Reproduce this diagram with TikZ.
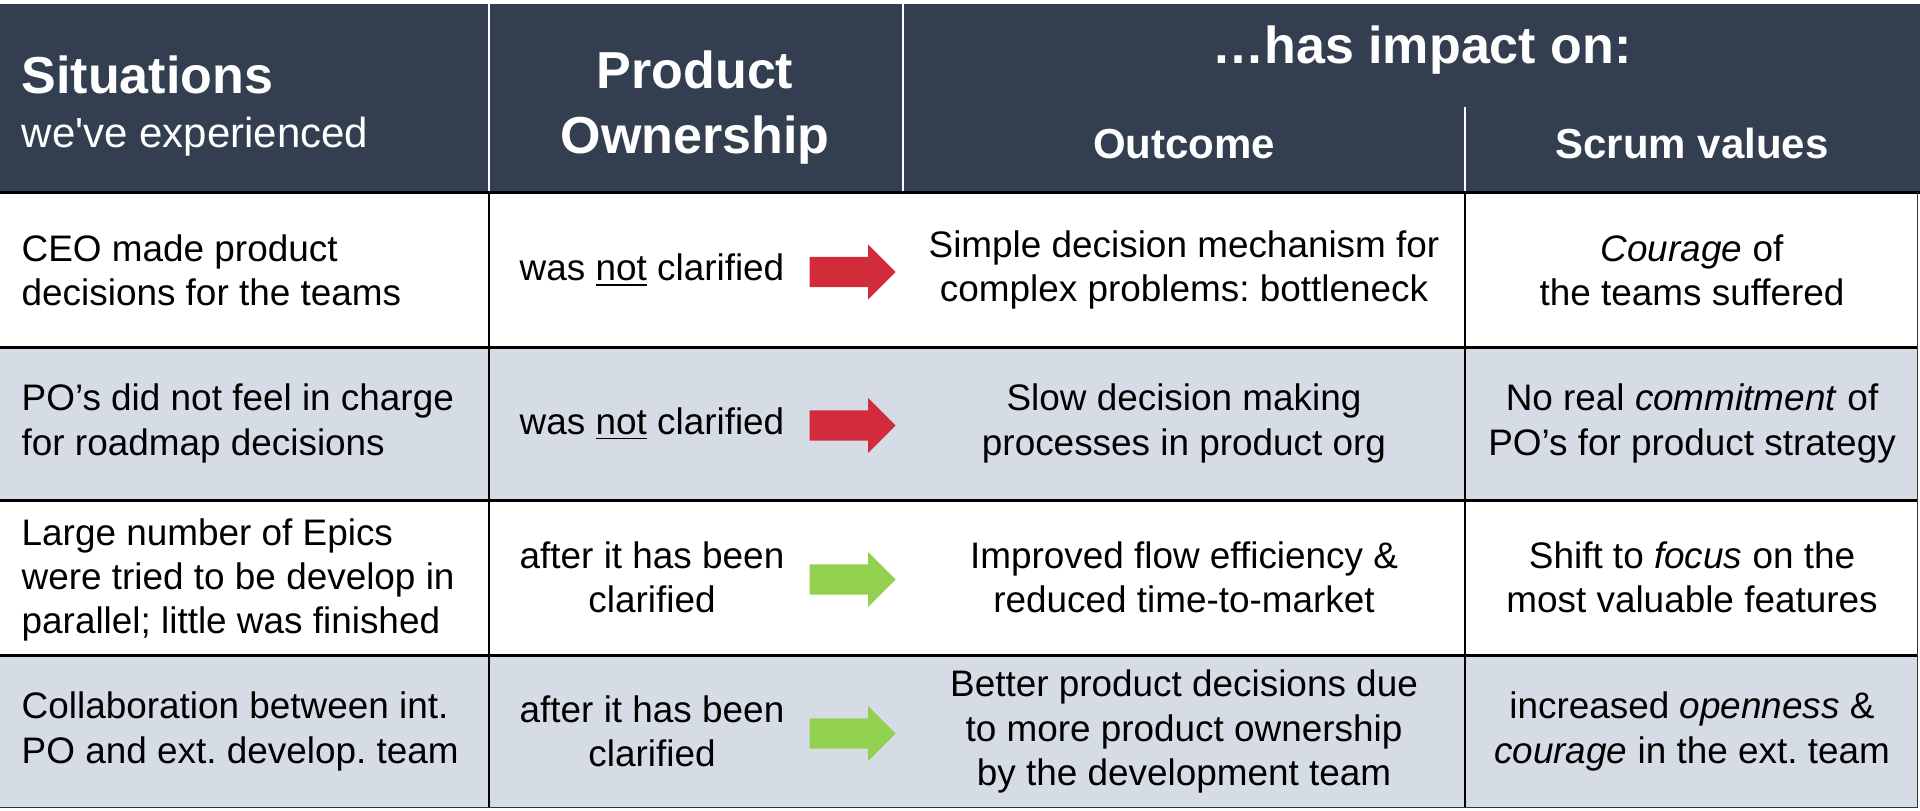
\documentclass[tikz,border=0pt]{standalone}
\usepackage{fontspec}
\setmainfont{Liberation Sans}
\usetikzlibrary{shapes.arrows}
\definecolor{headblue}{RGB}{51,63,80}
\definecolor{rowgray}{RGB}{214,220,229}
\definecolor{badred}{RGB}{210,43,60}
\definecolor{goodgreen}{RGB}{146,208,80}
\newcommand{\ulword}[1]{\leavevmode\setbox0\hbox{#1}\rlap{\rule[-0.14em]{\wd0}{0.55pt}}\box0\relax}
\frenchspacing

\begin{document}
\begin{tikzpicture}[
    head/.style={text=white, inner sep=0, font=\bfseries\fontsize{14.8}{18.5}\selectfont},
    subhead/.style={text=white, inner sep=0, font=\bfseries\fontsize{11.95}{14.4}\selectfont},
    cell/.style={inner sep=0, align=center, font=\fontsize{10.5}{12.6}\selectfont},
    sitcell/.style={cell, align=left, anchor=west},
    badarrow/.style={single arrow, fill=badred, draw=none, inner xsep=0, inner ysep=0.145cm, minimum height=0.86cm, single arrow head extend=0.125cm, single arrow tip angle=90, anchor=tail},
    goodarrow/.style={badarrow, fill=goodgreen},
    rowline/.style={line width=0.85pt},
    colline/.style={line width=0.43pt}
]
\useasboundingbox (0,0) rectangle (19.2,-8.1);

\fill[headblue] (0,-0.04) rectangle (19.2,-1.91);
\fill[rowgray] (0,-3.47) rectangle (19.17,-5.00);
\fill[rowgray] (0,-6.55) rectangle (19.17,-8.07);

\draw[white, colline] (4.89,-0.04) -- (4.89,-1.91);
\draw[white, colline] (9.03,-0.04) -- (9.03,-1.91);
\draw[white, colline] (14.65,-1.07) -- (14.65,-1.91);

\node[head, anchor=base west] (sit) at (0.21,-0.93) {Situations};
\node[subhead, anchor=base west, font=\fontsize{11.95}{14.4}\selectfont] (exp) at (0.21,-1.47) {we\textquotesingle ve experienced};
\node[head, align=center, anchor=north] (own) at (6.95,-0.50) {Product\\Ownership};
\node[head, anchor=base] (impact) at (14.22,-0.63) {…has impact on:};
\node[subhead, anchor=base] (outc) at (11.84,-1.58) {Outcome};
\node[subhead, anchor=base] (vals) at (16.92,-1.58) {Scrum values};

\node[sitcell] (sit1) at (0.21,-2.70) {CEO made product\\decisions for the teams};
\node[cell] (own1) at (6.52,-2.70) {was \ulword{not} clarified};
\node[badarrow] (arr1) at (8.09,-2.72) {};
\node[cell] (out1) at (11.84,-2.70) {Simple decision mechanism for\\complex problems: bottleneck};
\node[cell] (val1) at (16.92,-2.70) {\textit{Courage} of\\the teams suffered};

\node[sitcell] (sit2) at (0.21,-4.235) {PO’s did not feel in charge\\for roadmap decisions};
\node[cell] (own2) at (6.52,-4.235) {was \ulword{not} clarified};
\node[badarrow] (arr2) at (8.09,-4.255) {};
\node[cell] (out2) at (11.84,-4.235) {Slow decision making\\processes in product org};
\node[cell] (val2) at (16.92,-4.235) {No real \textit{commitment} of\\PO’s for product strategy};

\node[sitcell] (sit3) at (0.21,-5.80) {Large number of Epics\\were tried to be develop in\\parallel; little was finished};
\node[cell] (own3) at (6.52,-5.775) {after it has been\\clarified};
\node[goodarrow] (arr3) at (8.09,-5.795) {};
\node[cell] (out3) at (11.84,-5.775) {Improved flow efficiency \&\\reduced time-to-market};
\node[cell] (val3) at (16.92,-5.775) {Shift to \textit{focus} on the\\most valuable features};

\node[sitcell] (sit4) at (0.21,-7.315) {Collaboration between int.\\PO and ext. develop. team};
\node[cell] (own4) at (6.52,-7.315) {after it has been\\clarified};
\node[goodarrow] (arr4) at (8.09,-7.335) {};
\node[cell] (out4) at (11.84,-7.315) {Better product decisions due\\to more product ownership\\by the development team};
\node[cell] (val4) at (16.92,-7.315) {increased \textit{openness} \&\\\textit{courage} in the ext. team};

\draw[rowline] (0,-1.92) -- (19.2,-1.92);
\draw[rowline] (0,-3.47) -- (19.17,-3.47);
\draw[rowline] (0,-5.00) -- (19.17,-5.00);
\draw[rowline] (0,-6.55) -- (19.17,-6.55);
\draw[colline] (4.89,-1.92) -- (4.89,-8.07);
\draw[colline] (14.65,-1.92) -- (14.65,-8.07);
\draw[black!80, line width=0.3pt] (19.17,-1.92) -- (19.17,-8.07) -- (0,-8.07);
\end{tikzpicture}
\end{document}
